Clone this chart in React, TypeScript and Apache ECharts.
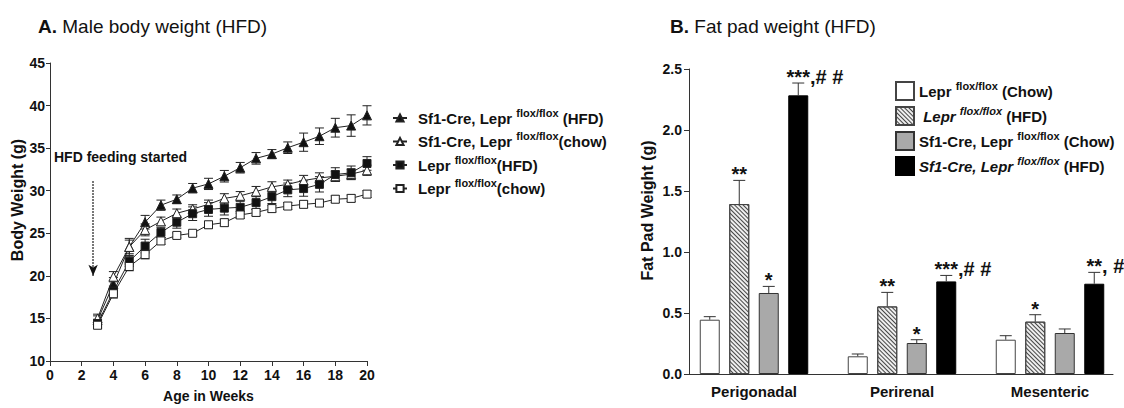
import React, { useEffect, useRef } from 'react';
import * as echarts from 'echarts';

const FONT = '"Liberation Sans", Arial, Helvetica, sans-serif';
const INK = '#111';
const AXIS = '#333';

// ---------- Panel A data ----------
const weeks = [3, 4, 5, 6, 7, 8, 9, 10, 11, 12, 13, 14, 15, 16, 17, 18, 19, 20];
const sf1CreHFD = [14.8, 19.0, 23.4, 26.3, 28.3, 29.0, 30.3, 30.8, 31.7, 32.7, 33.8, 34.3, 35.05, 35.7, 36.4, 37.4, 37.65, 38.85];
const sf1CreHFDErr = [0.5, 0.8, 0.8, 0.8, 0.6, 0.5, 0.55, 0.66, 0.68, 0.62, 0.68, 0.53, 0.68, 1.07, 0.97, 1.1, 1.26, 1.13];
const sf1CreChow = [15.0, 19.9, 23.4, 25.4, 26.4, 27.35, 27.85, 28.4, 29.1, 29.4, 29.9, 30.45, 30.75, 31.2, 31.5, 31.7, 31.95, 32.4];
const sf1CreChowErr = [0.5, 0.6, 1.0, 0.7, 0.5, 0.5, 0.5, 0.5, 0.55, 0.5, 0.6, 0.6, 0.5, 0.6, 0.6, 0.6, 0.6, 0.6];
const leprHFD = [14.4, 18.2, 21.7, 23.5, 25.1, 26.3, 27.3, 27.8, 27.95, 28.05, 28.6, 29.3, 30.1, 30.25, 30.75, 31.9, 32.1, 33.2];
const leprHFDErr = [0.5, 0.6, 0.6, 0.8, 0.6, 0.7, 0.8, 0.8, 0.8, 0.7, 0.8, 0.8, 0.8, 0.9, 0.9, 0.8, 0.8, 0.8];
const leprChow = [14.2, 17.9, 21.1, 22.5, 24.1, 24.75, 25.0, 26.0, 26.25, 27.15, 27.45, 27.9, 28.2, 28.4, 28.55, 29.0, 29.1, 29.6];
const leprChowErr = [0.4, 0.5, 0.5, 0.5, 0.4, 0.3, 0.3, 0.4, 0.4, 0.4, 0.4, 0.4, 0.4, 0.4, 0.4, 0.4, 0.4, 0.4];
const arrowWeek = 2.72;
const arrowFrom = 31.1;
const arrowTo = 20.0;

const lineNames = [
  'Sf1-Cre, Lepr flox/flox (HFD)',
  'Sf1-Cre, Lepr flox/flox(chow)',
  'Lepr flox/flox(HFD)',
  'Lepr flox/flox(chow)',
];
const lineLegendText = [
  'Sf1-Cre, Lepr {sup|flox/flox} (HFD)',
  'Sf1-Cre, Lepr {sup|flox/flox}(chow)',
  'Lepr {sup|flox/flox}(HFD)',
  'Lepr {sup|flox/flox}(chow)',
];

// ---------- Panel B data ----------
const fatCategories = ['Perigonadal', 'Perirenal', 'Mesenteric'];
const fatLeprChow = [0.445, 0.145, 0.281];
const fatLeprChowErr = [0.025, 0.019, 0.033];
const fatLeprHFD = [1.393, 0.554, 0.429];
const fatLeprHFDErr = [0.194, 0.115, 0.057];
const fatSf1Chow = [0.664, 0.254, 0.336];
const fatSf1ChowErr = [0.054, 0.027, 0.033];
const fatSf1HFD = [2.284, 0.759, 0.74];
const fatSf1HFDErr = [0.101, 0.049, 0.093];
const starsLeprChow = ['', '', ''];
const starsLeprHFD = ['**', '**', '*'];
const starsSf1Chow = ['*', '*', ''];
const starsSf1HFD = ['***', '***', '**'];
const hashSf1HFD = [',# #', ',# #', ', #'];
const noHash = ['', '', ''];

const barNames = [
  'Fat: Lepr flox/flox (Chow)',
  'Fat: Lepr flox/flox (HFD)',
  'Fat: Sf1-Cre, Lepr flox/flox (Chow)',
  'Fat: Sf1-Cre, Lepr flox/flox (HFD)',
];
const barLegendText = [
  'Lepr {sup|flox/flox} (Chow)',
  ' {it|Lepr} {itsup|flox/flox} (HFD)',
  'Sf1-Cre, Lepr {sup|flox/flox} (Chow)',
  '{it|Sf1-Cre, Lepr} {itsup|flox/flox} (HFD)',
];

const BAR_W = 20;
const BAR_GAP = 9.5;

let measureCtx: CanvasRenderingContext2D | null = null;
function textWidth(t: string, font: string) {
  if (!measureCtx) measureCtx = document.createElement('canvas').getContext('2d');
  if (!measureCtx) return t.length * 8;
  measureCtx.font = font;
  return measureCtx.measureText(t).width;
}

const STAR_FONT = 'bold 20px "Liberation Sans", Arial, sans-serif';

function lineErrRender(params: any, api: any) {
  const x = api.value(0);
  const y = api.value(1);
  const e = api.value(2);
  const top = api.coord([x, y + e]);
  const bot = api.coord([x, y - e]);
  const cw = 4.5;
  const st = { stroke: '#222', lineWidth: 1 };
  return {
    type: 'group',
    children: [
      { type: 'line', shape: { x1: top[0], y1: top[1], x2: bot[0], y2: bot[1] }, style: st },
      { type: 'line', shape: { x1: top[0] - cw, y1: top[1], x2: top[0] + cw, y2: top[1] }, style: st },
      { type: 'line', shape: { x1: bot[0] - cw, y1: bot[1], x2: bot[0] + cw, y2: bot[1] }, style: st },
    ],
  };
}

function barErrRender(si: number, stars: string[], hashes: string[]) {
  return (params: any, api: any) => {
    const cat = api.value(0);
    const v = api.value(1);
    const e = api.value(2);
    const base = api.coord([cat, v]);
    const top = api.coord([cat, v + e]);
    const cx = base[0] + (si - 1.5) * (BAR_W + BAR_GAP);
    const st = { stroke: '#333', lineWidth: 1 };
    const children: any[] = [
      { type: 'line', shape: { x1: cx, y1: base[1], x2: cx, y2: top[1] }, style: st },
      { type: 'line', shape: { x1: cx - 6, y1: top[1], x2: cx + 6, y2: top[1] }, style: st },
    ];
    const s = stars[params.dataIndex];
    const h = hashes[params.dataIndex];
    const ty = top[1] - 6;
    if (s) {
      children.push({
        type: 'text',
        style: { text: s, x: cx, y: ty, font: STAR_FONT, fill: INK, align: 'center', verticalAlign: 'middle' },
      });
    }
    if (h) {
      const sw = textWidth(s, STAR_FONT);
      children.push({
        type: 'text',
        style: { text: h, x: cx + sw / 2, y: ty, font: STAR_FONT, fill: INK, align: 'left', verticalAlign: 'middle' },
      });
    }
    return { type: 'group', children };
  };
}

const richBase = {
  sup: { fontSize: 11, fontWeight: 'bold', fontFamily: FONT, color: INK, verticalAlign: 'top', lineHeight: 11 },
  it: { fontSize: 15, fontWeight: 'bold', fontStyle: 'italic', fontFamily: FONT, color: INK, lineHeight: 22 },
  itsup: { fontSize: 11, fontWeight: 'bold', fontStyle: 'italic', fontFamily: FONT, color: INK, verticalAlign: 'top', lineHeight: 11 },
};

export default function App() {
  const ref = useRef<HTMLDivElement>(null);

  useEffect(() => {
    if (!ref.current) return;
    const chart = echarts.init(ref.current, undefined, { renderer: 'svg' });

    const lineValues = [sf1CreHFD, sf1CreChow, leprHFD, leprChow];
    const lineErrs = [sf1CreHFDErr, sf1CreChowErr, leprHFDErr, leprChowErr];
    const lineSymbols = ['triangle', 'triangle', 'rect', 'rect'];
    const lineFilled = [true, false, true, false];
    const lineSizes = [9, 9, 8, 8];

    const barValues = [fatLeprChow, fatLeprHFD, fatSf1Chow, fatSf1HFD];
    const barErrs = [fatLeprChowErr, fatLeprHFDErr, fatSf1ChowErr, fatSf1HFDErr];
    const barStars = [starsLeprChow, starsLeprHFD, starsSf1Chow, starsSf1HFD];
    const barHashes = [noHash, noHash, noHash, hashSf1HFD];
    const barStyles: any[] = [
      { color: '#ffffff', borderColor: '#444', borderWidth: 1 },
      {
        color: '#eeeeee',
        borderColor: '#444',
        borderWidth: 1,
        decal: { symbol: 'rect', symbolSize: 1, dashArrayX: [1, 0], dashArrayY: [1, 1.8], rotation: Math.PI / 4, color: '#444' },
      },
      { color: '#a9a9a9', borderColor: '#333', borderWidth: 1 },
      { color: '#000000', borderColor: '#000', borderWidth: 1 },
    ];

    const series: any[] = [];
    lineNames.forEach((name, i) => {
      series.push({
        type: 'line',
        name,
        xAxisIndex: 0,
        yAxisIndex: 0,
        data: weeks.map((w, k) => [w, lineValues[i][k]]),
        symbol: lineSymbols[i],
        symbolSize: lineSizes[i],
        showAllSymbol: true,
        lineStyle: { color: '#222', width: 1 },
        itemStyle: { color: lineFilled[i] ? '#111' : '#fff', borderColor: '#222', borderWidth: 1 },
        z: 3,
        markLine:
          i === 0
            ? {
                silent: true,
                symbol: ['none', 'arrow'],
                symbolSize: [7, 11],
                label: { show: false },
                lineStyle: { type: 'dotted', color: INK, width: 1.5 },
                data: [[{ coord: [arrowWeek, arrowFrom] }, { coord: [arrowWeek, arrowTo] }]],
              }
            : undefined,
      });
      series.push({
        type: 'custom',
        name: name + ' err',
        xAxisIndex: 0,
        yAxisIndex: 0,
        data: weeks.map((w, k) => [w, lineValues[i][k], lineErrs[i][k]]),
        encode: { x: 0, y: 1 },
        renderItem: lineErrRender,
        silent: true,
        z: 2,
      });
    });
    barNames.forEach((name, i) => {
      series.push({
        type: 'bar',
        name,
        xAxisIndex: 1,
        yAxisIndex: 1,
        data: barValues[i],
        barWidth: BAR_W,
        barGap: (BAR_GAP / BAR_W) * 100 + '%',
        itemStyle: barStyles[i],
        z: 2,
      });
    });
    barNames.forEach((name, i) => {
      series.push({
        type: 'custom',
        name: name + ' err',
        xAxisIndex: 1,
        yAxisIndex: 1,
        data: barValues[i].map((v, k) => [k, v, barErrs[i][k]]),
        encode: { x: 0, y: 1 },
        renderItem: barErrRender(i, barStars[i], barHashes[i]),
        silent: true,
        z: 4,
      });
    });

    const axisLabelBold = { fontFamily: FONT, fontWeight: 'bold', color: INK };

    chart.setOption({
      animation: false,
      textStyle: { fontFamily: FONT },
      title: [
        {
          text: '{b|A.} Male body weight (HFD)',
          left: 33,
          top: 12,
          textStyle: { fontFamily: FONT, fontSize: 19, fontWeight: 'normal', color: INK, rich: { b: { fontFamily: FONT, fontSize: 19, fontWeight: 'bold', color: INK } } },
        },
        {
          text: '{b|B.} Fat pad weight (HFD)',
          left: 665,
          top: 12,
          textStyle: { fontFamily: FONT, fontSize: 19, fontWeight: 'normal', color: INK, rich: { b: { fontFamily: FONT, fontSize: 19, fontWeight: 'bold', color: INK } } },
        },
      ],
      legend: [
        {
          data: lineNames,
          orient: 'vertical',
          left: 387,
          top: 102,
          itemWidth: 14,
          itemHeight: 9,
          itemGap: 1.5,
          selectedMode: false,
          formatter: (n: string) => lineLegendText[lineNames.indexOf(n)],
          textStyle: { fontFamily: FONT, fontSize: 15, fontWeight: 'bold', color: INK, lineHeight: 22, padding: [0, 0, 0, 6], rich: richBase },
        },
        {
          data: barNames,
          orient: 'vertical',
          left: 890,
          top: 75,
          itemWidth: 18,
          itemHeight: 18,
          itemGap: 3,
          icon: 'rect',
          selectedMode: false,
          formatter: (n: string) => barLegendText[barNames.indexOf(n)],
          textStyle: { fontFamily: FONT, fontSize: 15, fontWeight: 'bold', color: INK, lineHeight: 22, rich: richBase },
        },
      ],
      grid: [
        { left: 50, top: 63, width: 317, height: 300 },
        { left: 680, top: 69, width: 445, height: 305 },
        { left: 689, top: 69, width: 424, height: 305 },
      ],
      xAxis: [
        {
          gridIndex: 0,
          type: 'value',
          min: 0,
          max: 20,
          interval: 2,
          name: 'Age in Weeks',
          nameLocation: 'middle',
          nameGap: 28,
          nameTextStyle: { fontFamily: FONT, fontWeight: 'bold', fontSize: 14, color: INK },
          axisLine: { show: true, lineStyle: { color: AXIS, width: 1 } },
          axisTick: { show: true, length: 5, lineStyle: { color: AXIS } },
          axisLabel: { ...axisLabelBold, fontSize: 14, margin: 7 },
          splitLine: { show: false },
        },
        {
          gridIndex: 1,
          type: 'category',
          data: fatCategories,
          axisLine: { show: false },
          axisTick: { show: false },
          axisLabel: { ...axisLabelBold, fontSize: 15, margin: 10 },
        },
        {
          gridIndex: 2,
          type: 'value',
          min: 0,
          max: 1,
          axisLine: { show: true, lineStyle: { color: AXIS, width: 1 } },
          axisTick: { show: false },
          axisLabel: { show: false },
          splitLine: { show: false },
        },
      ],
      yAxis: [
        {
          gridIndex: 0,
          type: 'value',
          min: 10,
          max: 45,
          interval: 5,
          name: 'Body Weight (g)',
          nameLocation: 'middle',
          nameGap: 23,
          nameTextStyle: { fontFamily: FONT, fontWeight: 'bold', fontSize: 16, color: INK, padding: [0, 0, 0, 24] },
          axisLine: { show: true, lineStyle: { color: AXIS, width: 1 } },
          axisTick: { show: true, length: 4, lineStyle: { color: AXIS } },
          axisLabel: { ...axisLabelBold, fontSize: 14, margin: 5 },
          splitLine: { show: false },
        },
        {
          gridIndex: 1,
          type: 'value',
          min: 0,
          max: 2.5,
          show: false,
        },
        {
          gridIndex: 2,
          type: 'value',
          min: 0,
          max: 2.5,
          interval: 0.5,
          name: 'Fat Pad Weight (g)',
          nameLocation: 'middle',
          nameGap: 34,
          nameTextStyle: { fontFamily: FONT, fontWeight: 'bold', fontSize: 16, color: INK, padding: [0, 0, 0, 22] },
          axisLine: { show: true, lineStyle: { color: AXIS, width: 1 } },
          axisTick: { show: true, length: 5, lineStyle: { color: AXIS } },
          axisLabel: { ...axisLabelBold, fontSize: 14, margin: 7, formatter: (v: number) => v.toFixed(1) },
          splitLine: { show: false },
        },
      ],
      graphic: [
        {
          type: 'text',
          left: 54,
          top: 150,
          style: { text: 'HFD feeding started', font: 'bold 14px "Liberation Sans", Arial, sans-serif', fill: INK },
        },
      ],
      series,
    });

    return () => chart.dispose();
  }, []);

  return <div ref={ref} style={{ position: 'absolute', left: 0, top: 0, width: 1124, height: 408, background: '#fff' }} />;
}
